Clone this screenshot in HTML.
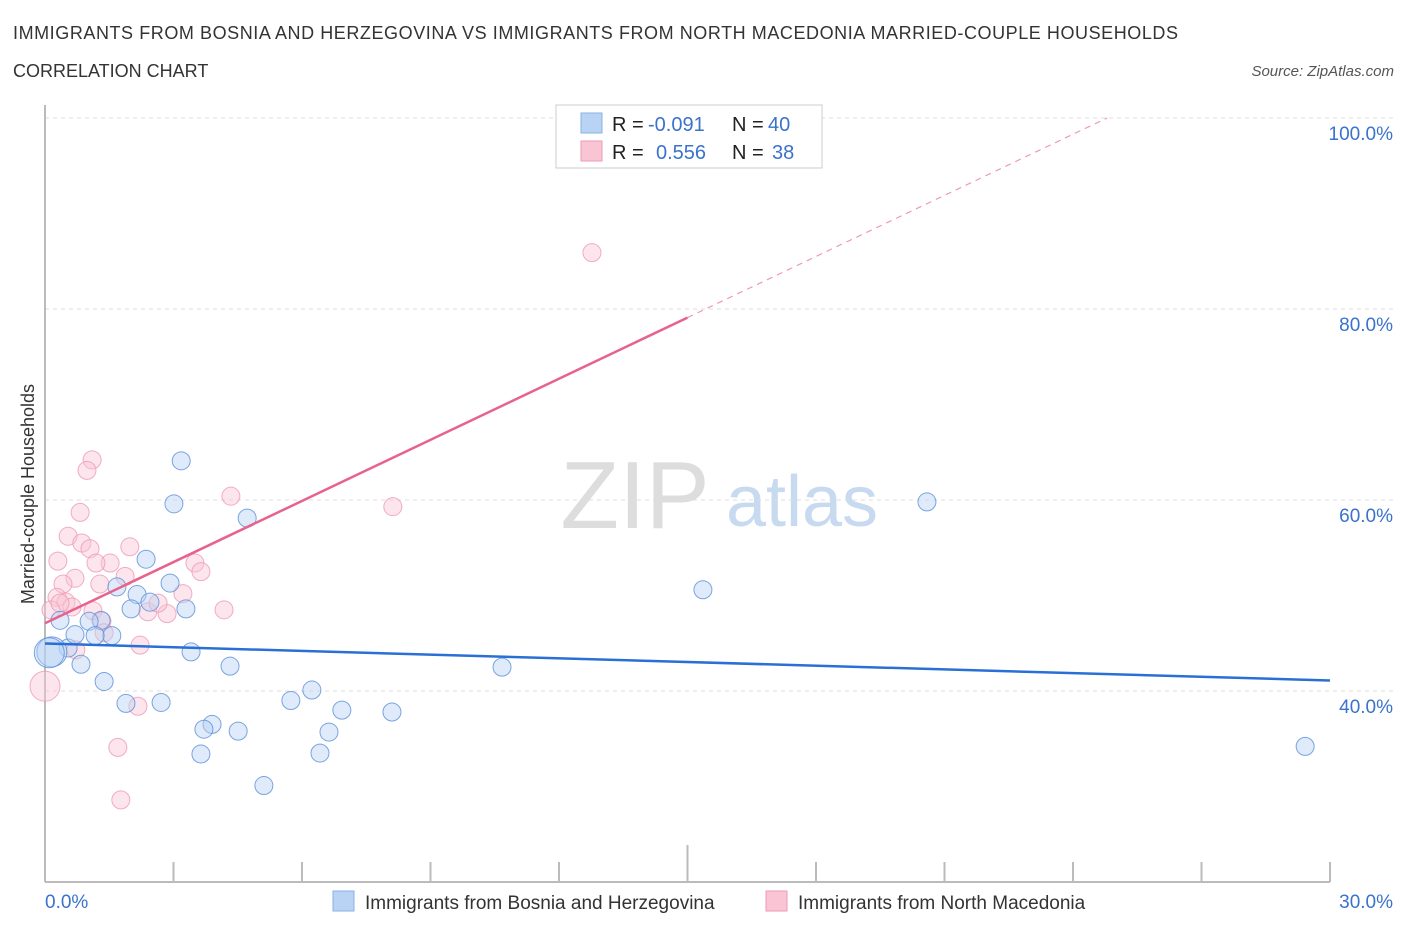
<!DOCTYPE html>
<html><head><meta charset="utf-8"><style>
body{margin:0;background:#fff;font-family:"Liberation Sans",sans-serif;}
svg text{font-family:"Liberation Sans",sans-serif;}
</style></head><body>
<svg id="c" width="1406" height="930" xmlns="http://www.w3.org/2000/svg">
<text x="13" y="39" font-size="18" fill="#333" textLength="1165">IMMIGRANTS FROM BOSNIA AND HERZEGOVINA VS IMMIGRANTS FROM NORTH MACEDONIA MARRIED-COUPLE HOUSEHOLDS</text>
<text x="13" y="77" font-size="18" fill="#333">CORRELATION CHART</text>
<text x="1394" y="76" font-size="15" fill="#555" font-style="italic" text-anchor="end">Source: ZipAtlas.com</text>
<text x="635" y="528" font-size="96" fill="#ddd" font-family="Liberation Serif" text-anchor="middle">ZIP</text>
<text x="802" y="526" font-size="72" fill="#c8daf0" text-anchor="middle">atlas</text>
<text transform="translate(34,494) rotate(-90)" font-size="18" fill="#333" text-anchor="middle">Married-couple Households</text>
<g id="grid"></g><g id="axes"></g><g id="pts"></g><g id="lines"></g>
<g>
<rect x="556" y="105" width="266" height="63" fill="#fff" stroke="#ccc"/>
<rect x="581" y="113" width="21" height="20" fill="#b9d3f5" stroke="#8ab1e6"/>
<rect x="581" y="141" width="21" height="20" fill="#f9c5d5" stroke="#ee9ab5"/>
<text x="612" y="131" font-size="20" fill="#222">R =</text>
<text x="648" y="131" font-size="20" fill="#3a72cc">-0.091</text>
<text x="732" y="131" font-size="20" fill="#222">N =</text>
<text x="768" y="131" font-size="20" fill="#3a72cc">40</text>
<text x="612" y="159" font-size="20" fill="#222">R =</text>
<text x="656" y="159" font-size="20" fill="#3a72cc">0.556</text>
<text x="732" y="159" font-size="20" fill="#222">N =</text>
<text x="772" y="159" font-size="20" fill="#3a72cc">38</text>
</g>
<g>
<rect x="333" y="891" width="21" height="20" fill="#b9d3f5" stroke="#8ab1e6"/>
<text x="365" y="909" font-size="19" fill="#333">Immigrants from Bosnia and Herzegovina</text>
<rect x="766" y="891" width="21" height="20" fill="#f9c5d5" stroke="#ee9ab5"/>
<text x="798" y="909" font-size="19" fill="#333">Immigrants from North Macedonia</text>
</g>
</svg>
<script>
const blueX=[3.18,3.01,4.72,2.36,1.68,2.92,2.15,2.45,2.01,3.29,1.31,1.03,0.35,1.56,1.17,0.54,0.16,3.41,0.84,4.32,10.67,1.38,6.23,5.74,1.89,2.71,6.93,8.10,3.90,3.71,4.51,6.63,6.42,3.64,5.11,20.59,15.36,29.42,0.1,0.70];
const blueY=[64.1,59.6,58.1,53.8,50.9,51.3,50.1,49.3,48.6,48.6,47.4,47.3,47.4,45.8,45.8,44.5,44.1,44.1,42.8,42.6,42.5,41.0,40.1,39.0,38.7,38.8,38.0,37.8,36.5,36.0,35.8,35.7,33.5,33.4,30.1,59.8,50.6,34.2,44.0,45.9];
const pinkX=[1.10,0.98,12.77,4.34,8.12,0.82,0.54,0.86,1.05,1.98,0.30,1.52,1.19,3.50,3.64,1.87,0.70,0.42,1.28,3.22,0.28,0.49,0.63,0.14,1.12,2.40,2.85,4.18,1.33,1.38,2.22,0.0,2.17,1.70,1.77,0.72,0.35,2.64];
const pinkY=[64.2,63.1,85.9,60.4,59.3,58.7,56.2,55.5,54.9,55.1,53.6,53.4,53.4,53.4,52.5,52.0,51.8,51.2,51.2,50.2,49.8,49.3,48.8,48.5,48.4,48.3,48.1,48.5,47.3,46.1,44.8,40.5,38.4,34.1,28.6,44.3,49.2,49.2];
const blueTrend=[44.97,41.1];
const pinkTrend=[47.1,79.1];
const yTicks=[40,60,80,100];
const NS="http://www.w3.org/2000/svg";
const sx=v=>45+v/30*1285, sy=v=>118+(100-v)/20*191;
function mk(p,t,a){const e=document.createElementNS(NS,t);for(const k in a)e.setAttribute(k,a[k]);p.appendChild(e);return e;}
const grid=document.getElementById('grid'),axes=document.getElementById('axes'),pts=document.getElementById('pts'),lines=document.getElementById('lines');
yTicks.forEach(t=>{const l=mk(grid,'line',{x1:45,x2:1395,y1:sy(t),y2:sy(t),stroke:'#ddd','stroke-dasharray':'4,4'});


const tx=mk(axes,'text',{x:1393,y:sy(t)+22,'font-size':19,fill:'#3a72cc','text-anchor':'end'});tx.textContent=t.toFixed(1)+'%';

});
const ya=mk(axes,'line',{x1:45,x2:45,y1:105,y2:882,stroke:'#bbb','stroke-width':2});


const xa=mk(axes,'line',{x1:45,x2:1330,y1:882,y2:882,stroke:'#bbb','stroke-width':2});


for(let i=0;i<=10;i++){const x=sx(i*3);const tk=mk(axes,'line',{x1:x,x2:x,y1:i==5?845:862,y2:882,stroke:'#bbb','stroke-width':2});

}
const x0=mk(axes,'text',{x:45,y:908,'font-size':19,fill:'#3a72cc'});x0.textContent='0.0%';


const x1=mk(axes,'text',{x:1393,y:908,'font-size':19,fill:'#3a72cc','text-anchor':'end'});x1.textContent='30.0%';


function dots(X,Y,fill,stroke,name){X.forEach((x,i)=>{const big=x<0.2&&(name=='blue-point'?Y[i]<44.5:Y[i]<41);
const c=mk(pts,'circle',{cx:sx(x),cy:sy(Y[i]),r:big?15:9,fill:fill,'fill-opacity':0.45,stroke:stroke,'stroke-opacity':0.8,'stroke-width':1});

});}
dots(pinkX,pinkY,'#f9c5d5','#ee9ab5','pink-point');
dots(blueX,blueY,'#b9d3f5','#5b8fd8','blue-point');
const bl=mk(lines,'line',{x1:sx(0),y1:sy(blueTrend[0]),x2:sx(30),y2:sy(blueTrend[1]),stroke:'#2a6fd6','stroke-width':2.5});


const slope=(pinkTrend[1]-pinkTrend[0])/15;
const pl=mk(lines,'line',{x1:sx(0),y1:sy(pinkTrend[0]),x2:sx(15),y2:sy(pinkTrend[1]),stroke:'#e8628e','stroke-width':2.5});


const xe=(100-pinkTrend[0])/slope;
const pd=mk(lines,'line',{x1:sx(15),y1:sy(pinkTrend[1]),x2:sx(xe),y2:sy(100),stroke:'#ee9ab5','stroke-width':1.2,'stroke-dasharray':'6,5'});


</script>
</body></html>
